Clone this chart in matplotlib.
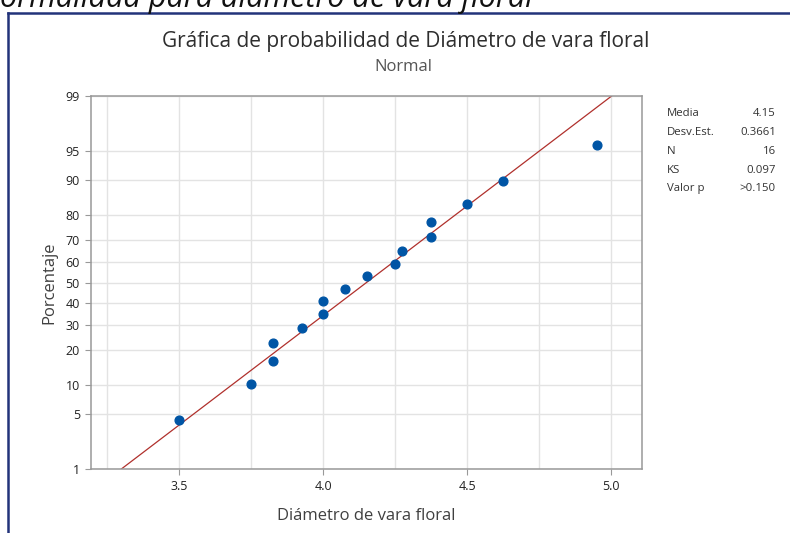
import numpy as np
import matplotlib.pyplot as plt
from matplotlib.lines import Line2D
from statistics import NormalDist

plt.rcParams['font.family'] = ['Open Sans', 'DejaVu Sans']

# Datos (diametro de vara floral, porcentaje acumulado)
diametro = [3.5, 3.75, 3.825, 3.825, 3.925, 4.0, 4.0, 4.075,
            4.15, 4.25, 4.275, 4.375, 4.375, 4.5, 4.625, 4.95]
porcentaje = [4.27, 10.37, 16.46, 22.56, 28.66, 34.76, 40.85, 46.95,
              53.05, 59.15, 65.24, 71.34, 77.44, 83.54, 89.63, 95.73]
y_ticks = [1, 5, 10, 20, 30, 40, 50, 60, 70, 80, 90, 95, 99]
x_ticks = [3.5, 4.0, 4.5, 5.0]
stat_labels = ['Media', 'Desv.Est.', 'N', 'KS', 'Valor p']
stat_values = ['4.15', '0.3661', '16', '0.097', '>0.150']

nd = NormalDist()
def to_z(p):
    return [nd.inv_cdf(v / 100.0) for v in p]

W, H = 790, 533
fig = plt.figure(figsize=(W / 100, H / 100), dpi=100)
ax = fig.add_axes([91 / W, 1 - 469 / H, 551 / W, 373 / H])

# linea de ajuste normal (media y desv. est. de los datos)
mu = np.mean(diametro)
sd = np.std(diametro, ddof=1)
zl = np.array(to_z([1, 99]))
ax.plot(mu + sd * zl, zl, color='#B0302C', lw=0.9, zorder=2)
ax.plot(diametro, to_z(porcentaje), 'o', color='#0055A5', ms=6.3, mec='#0055A5', zorder=3)

ax.set_xlim(3.193, 5.107)
ax.set_ylim(nd.inv_cdf(0.01), nd.inv_cdf(0.99))
ax.set_xticks(x_ticks)
ax.set_xticklabels([f'{v:.1f}' for v in x_ticks])
ax.set_xticks([3.25, 3.75, 4.25, 4.75], minor=True)
ax.set_yticks(to_z(y_ticks))
ax.set_yticklabels([str(v) for v in y_ticks])
ax.grid(True, which='both', color='#e3e3e3', lw=1)
ax.set_axisbelow(True)
for s in ax.spines.values():
    s.set_color('#999999')
    s.set_linewidth(1.1)
ax.tick_params(which='major', length=4, color='#999999', labelsize=9, labelcolor='#222222', pad=4)
ax.tick_params(which='minor', length=0)

ax.set_xlabel('Diámetro de vara floral', fontsize=12, color='#404040', labelpad=11)
ax.set_ylabel('Porcentaje', fontsize=12, color='#404040', labelpad=6)

fig.text(406 / W, 1 - 42 / H, 'Gráfica de probabilidad de Diámetro de vara floral',
         ha='center', va='center', fontsize=15, color='#2e2e2e')
fig.text(403 / W, 1 - 67 / H, 'Normal', ha='center', va='center', fontsize=12, color='#555555')

for i, (lab, val) in enumerate(zip(stat_labels, stat_values)):
    yy = 1 - (114 + i * 18.7) / H
    fig.text(667 / W, yy, lab, ha='left', va='center', fontsize=8.2, color='#333333')
    fig.text(776 / W, yy, val, ha='right', va='center', fontsize=8.2, color='#333333')

# texto cortado del documento y marco azul
fig.text(0, 1 - 7 / H, 'ormalidad para diámetro de vara floral', ha='left', va='baseline',
         fontsize=22, style='italic', color='#111111')
fig.add_artist(Line2D([8 / W, 8 / W], [0, 1 - 13 / H], color='#22337A', lw=1.8))
fig.add_artist(Line2D([8 / W, 1], [1 - 13 / H, 1 - 13 / H], color='#22337A', lw=1.8))

fig.savefig('out.png', dpi=100)
